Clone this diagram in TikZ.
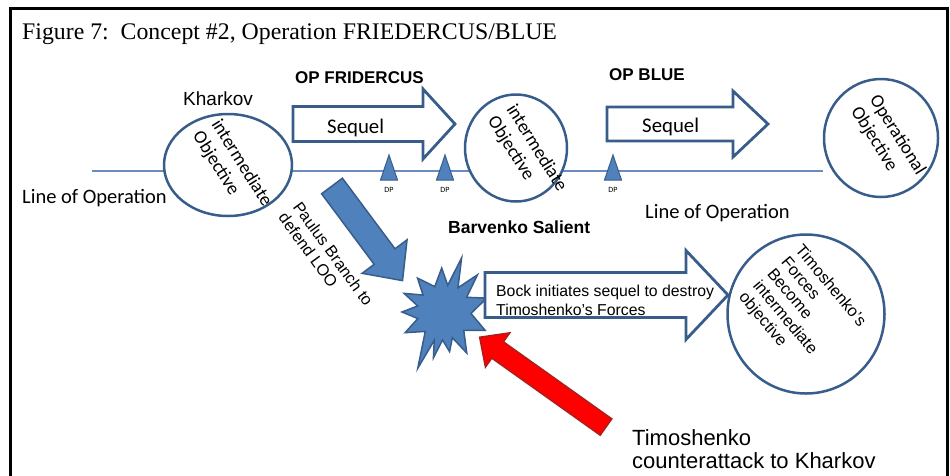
\documentclass[tikz,border=0pt]{standalone}
\usepackage{fontspec}
\setmainfont{Liberation Serif}
\newfontfamily\arial{Liberation Sans}
\newfontfamily\calibri{Carlito}
\usepackage{tikz}
\usetikzlibrary{shapes.geometric}
\definecolor{edgeblue}{RGB}{56,93,138}
\definecolor{fillblue}{RGB}{79,129,189}
\definecolor{looblue}{RGB}{105,140,190}
\definecolor{attackred}{RGB}{255,0,0}
\definecolor{attackedge}{RGB}{170,30,30}
\newcommand{\fs}[2]{\fontsize{#1}{#2}\selectfont}
% block arrow: style, tail, angle, length, body half, head half, head length
\newcommand{\blockarrow}[7]{%
  \draw[#1, shift={#2}, rotate=#3] (0,#5) -- ({#4-#7},#5) -- ({#4-#7},#6) -- (#4,0)
    -- ({#4-#7},-#6) -- ({#4-#7},-#5) -- (0,-#5) -- cycle;}
\tikzset{
    objective/.style={ellipse, draw=edgeblue, line width=2.5pt, fill=white, inner sep=0pt},
    objtext/.style={align=left, inner sep=0pt, font=\calibri\fs{18.7}{22}},
    sequel/.style={draw=edgeblue, line width=2.8pt, fill=white},
    branch/.style={draw=edgeblue, line width=1.5pt, fill=fillblue},
    attack/.style={draw=attackedge, line width=1.5pt, fill=attackred},
    dpmark/.style={draw=edgeblue, line width=1pt, fill=fillblue},
    sans/.style 2 args={font=\arial\fs{#1}{#2}},
    label/.style={inner sep=0pt, anchor=base west}
}
\begin{document}
\begin{tikzpicture}[x=1pt, y=-1pt]
    \useasboundingbox (0,0) rectangle (950,475);
    \draw[line width=3pt] (10,480) -- (10,8) -- (947,8) -- (947,480);

    \node[label, font=\fs{23.8}{27}] (title) at (22,39) {Figure 7:\ \ Concept \#2, Operation FRIEDERCUS/BLUE};

    % line of operation
    \coordinate (loo-start) at (92,171);
    \coordinate (loo-end) at (823,171);
    \draw[looblue, line width=1.3pt] (loo-start) -- (loo-end);

    % sequels
    \coordinate (fridercus-tail) at (293,124);
    \coordinate (blue-tail) at (607,124);
    \coordinate (bock-tail) at (485,295);
    \blockarrow{sequel}{(fridercus-tail)}{0}{162}{17.5}{35}{32}
    \blockarrow{sequel}{(blue-tail)}{0}{161}{17}{33}{35}

    \foreach \x [count=\i] in {389,445,613} {
        \draw[dpmark] (\x-8.5,180) -- (\x,155) -- (\x+8.5,180) -- cycle;
        \node[font=\calibri\fs{8}{9}, inner sep=0pt] (dp-\i) at (\x,190) {DP};
    }

    % objectives
    \node[objective, minimum width=128pt, minimum height=102pt] (kharkov) at (228,165) {};
    \node[objective, minimum width=102pt, minimum height=107pt] (barvenko) at (516,148) {};
    \node[objective, minimum width=114pt, minimum height=118pt] (operational) at (881,138) {};
    \node[objective, minimum width=157pt, minimum height=159pt] (timoshenko) at (806,314) {};

    \node[objtext, rotate=-58] (kharkov-text) at (232,169) {intermediate\\Objective};
    \node[objtext, rotate=-58] (barvenko-text) at (527,154) {intermediate\\Objective};
    \node[objtext, rotate=-58] (operational-text) at (888,141) {Operational\\Objective};
    \node[align=left, inner sep=0pt, sans={16.4}{18.4}, rotate=-50] (timoshenko-text) at (802,310)
        {Timoshenko’s\\Forces\\Become\\intermediate\\objective};

    \node[label, sans={19}{22}] (kharkov-label) at (183,105) {Kharkov};
    \node[label, font=\arial\bfseries\fs{17}{20}] (fridercus-label) at (295,83) {OP FRIDERCUS};
    \node[label, font=\arial\bfseries\fs{17}{20}] (blue-label) at (609,80) {OP BLUE};
    \node[label, font=\calibri\fs{20.8}{25}] (sequel-1) at (327,133) {Sequel};
    \node[label, font=\calibri\fs{20.8}{25}] (sequel-2) at (642,132) {Sequel};
    \node[label, font=\calibri\fs{20.5}{25}] (loo-left) at (22,203) {Line of Operation};
    \node[label, font=\calibri\fs{20.5}{25}] (loo-right) at (645,218) {Line of Operation};
    \node[label, font=\arial\bfseries\fs{17.5}{21}] (salient) at (448,233) {Barvenko Salient};

    % Paulus branch
    \coordinate (paulus-tail) at (332,186);
    \blockarrow{branch}{(paulus-tail)}{-53.3}{118}{13}{28}{30}
    \node[align=left, inner sep=0pt, sans={16.2}{18}, rotate=-54] (paulus-text) at (326,259)
        {Paulus Branch to\\defend LOO};

    % clash
    \coordinate (clash) at (444,312);
    \draw[branch, shift={(clash)}] (-18:45)
        \foreach \a/\r in {33/27,48/50,60/28,72/57,82/27,93/44,110/27,128/43,141/27,155/44,167/27,
                           180/42,194/27,208/44,226/27,245/62,251/30,257/47,267/28,278/40,288/27,
                           299/47,317/27,336/45,357/27} { -- (-\a:\r) } -- cycle;

    \blockarrow{sequel}{(bock-tail)}{0}{243}{22.5}{44.5}{42}
    \node[align=left, inner sep=0pt, anchor=north west, sans={15.8}{19}] (bock-text) at (496,284.5)
        {Bock initiates sequel to destroy\\Timoshenko’s Forces};

    % counterattack
    \coordinate (counter-tail) at (606,427);
    \blockarrow{attack}{(counter-tail)}{144.6}{155}{10}{21}{22}
    \node[align=left, inner sep=0pt, anchor=north west, sans={22}{23.5}] (counter-text) at (632,429)
        {Timoshenko\\counterattack to Kharkov};
\end{tikzpicture}
\end{document}
